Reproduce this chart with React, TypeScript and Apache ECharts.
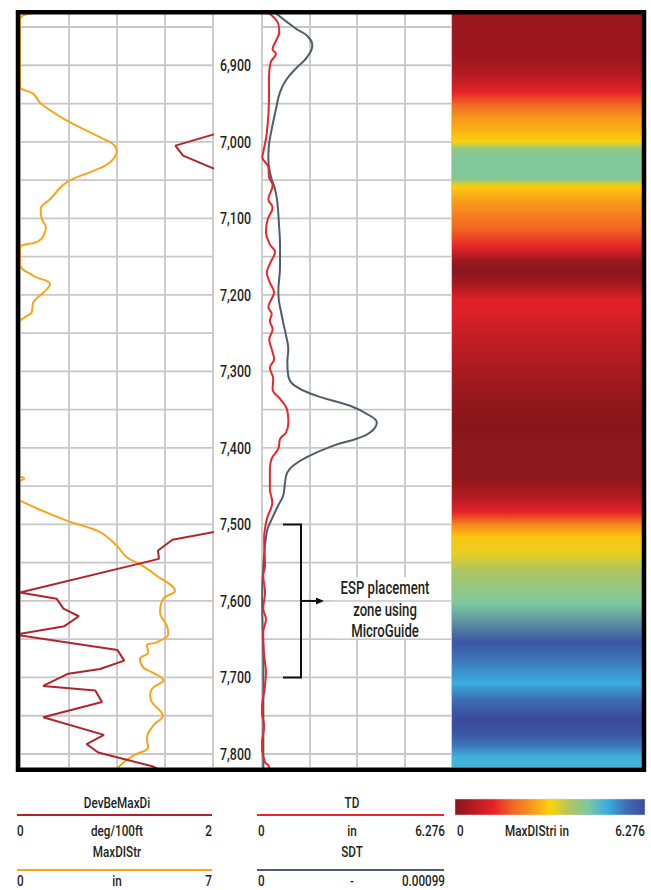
import React, { useEffect, useRef } from "react";
import * as echarts from "echarts";

// ---------- Data ----------
const DEPTH_MIN = 6833;
const DEPTH_MAX = 7817;
const DEPTH_TICKS = [6900, 7000, 7100, 7200, 7300, 7400, 7500, 7600, 7700, 7800];
const GRID_DEPTHS = [6850, 6900, 6950, 7000, 7050, 7100, 7150, 7200, 7250, 7300, 7350, 7400, 7450, 7500, 7550, 7600, 7650, 7700, 7750, 7800];

// DevBeMaxDi (deg/100ft), scale 0-2
const DEV_DEPTH = [6833, 6975, 6991, 7005, 7018, 7034, 7050, 7490, 7503, 7520, 7534, 7545, 7589, 7597, 7610, 7620, 7633, 7644, 7664, 7678, 7689, 7695, 7711, 7717, 7732, 7752, 7775, 7787, 7798, 7816, 7830];
const DEV_VALUES = [2.6, 2.4, 1.99, 1.61, 1.69, 1.99, 2.4, 2.6, 2.3, 1.58, 1.43, 1.44, 0.0, 0.38, 0.45, 0.61, 0.46, -0.05, 1.01, 1.08, 0.83, 0.5, 0.24, 0.78, 0.85, 0.24, 0.87, 0.69, 0.81, 1.37, 1.6];

// MaxDIStr (in), scale 0-7
const MAXDISTR_DEPTH = [6830, 6840, 6927, 6937, 6951, 6972, 6994, 7003, 7012, 7027, 7038, 7053, 7075, 7088, 7101, 7112, 7123, 7130, 7139, 7160, 7175, 7186, 7197, 7210, 7223, 7229, 7234, 7245, 7432, 7440, 7448, 7462, 7469, 7495, 7510, 7528, 7543, 7552, 7567, 7587, 7597, 7615, 7632, 7643, 7654, 7658, 7667, 7676, 7687, 7693, 7704, 7713, 7722, 7732, 7750, 7763, 7780, 7791, 7802, 7815, 7830];
const MAXDISTR_VALUES = [1.0, 0, 0, 0.47, 0.79, 1.69, 2.9, 3.37, 3.51, 3.26, 2.66, 1.69, 1.09, 0.75, 0.79, 0.94, 0.85, 0.66, 0, 0, 0.48, 1.09, 0.85, 0.48, 0.42, 0.18, 0, -0.3, -0.3, 0.15, -0.3, -0.2, 0, 1.69, 2.9, 3.51, 3.87, 4.35, 4.96, 5.62, 5.2, 5.08, 5.32, 5.38, 4.96, 4.6, 4.65, 4.35, 4.47, 4.78, 5.2, 4.83, 4.72, 4.78, 5.18, 4.83, 4.6, 4.65, 4.11, 3.63, 3.3];

// TD (in), scale 0-6.276
const TD_DEPTH = [6830, 6846, 6857, 6868, 6879, 6885, 6896, 6918, 6944, 6988, 7014, 7020, 7033, 7046, 7057, 7075, 7086, 7101, 7118, 7134, 7144, 7157, 7171, 7184, 7197, 7205, 7216, 7225, 7234, 7245, 7258, 7271, 7284, 7295, 7310, 7323, 7336, 7349, 7367, 7380, 7388, 7401, 7414, 7428, 7454, 7471, 7493, 7519, 7554, 7567, 7589, 7610, 7624, 7641, 7671, 7693, 7711, 7745, 7763, 7789, 7811, 7815, 7830];
const TD_VALUES = [0.16, 0.54, 0.57, 0.46, 0.35, 0.46, 0.29, 0.23, 0.23, 0.16, 0.04, 0.01, 0.21, 0.23, 0.35, 0.21, 0.35, 0.19, 0.13, 0.26, 0.43, 0.29, 0.16, 0.26, 0.4, 0.32, 0.21, 0.32, 0.26, 0.35, 0.24, 0.32, 0.4, 0.26, 0.37, 0.35, 0.6, 0.82, 0.87, 0.79, 0.6, 0.54, 0.32, 0.26, 0.26, 0.34, 0.16, 0.07, 0.1, 0.04, 0.1, 0.04, 0.13, 0.04, 0.07, 0.13, 0.1, -0.01, 0.07, -0.01, 0.1, 0.21, 0.3];

// SDT (-), scale 0-0.00099
const SDT_DEPTH = [6830, 6853, 6861, 6874, 6890, 6903, 6918, 6935, 6957, 6983, 7005, 7022, 7044, 7062, 7079, 7110, 7136, 7162, 7197, 7227, 7253, 7271, 7288, 7306, 7319, 7332, 7345, 7358, 7367, 7380, 7388, 7397, 7412, 7423, 7432, 7445, 7462, 7475, 7493, 7510, 7554, 7597, 7641, 7685, 7728, 7772, 7830];
const SDT_VALUES = [0.000062, 0.000181, 0.000233, 0.000262, 0.000233, 0.000181, 0.000129, 0.000094, 0.000073, 0.000051, 0.000036, 0.000033, 0.000045, 0.000068, 0.00008, 0.000089, 0.000094, 0.000094, 0.000085, 0.000103, 0.000125, 0.000137, 0.000132, 0.000137, 0.000172, 0.000285, 0.000459, 0.000563, 0.000598, 0.000563, 0.000493, 0.000372, 0.000233, 0.000163, 0.000132, 0.00012, 0.000111, 0.000085, 0.000051, 0.000025, 0.000007, 0.000001, 0.000004, 0.000007, 0.000007, 0.000007, 0.000007];

// MaxDIStri (in), colour track 0-6.276
const MAXDISTRI_DEPTH = [6833, 6890, 6915, 6935, 6951, 6968, 6990, 7000, 7009, 7020, 7048, 7055, 7059, 7075, 7094, 7114, 7134, 7144, 7155, 7170, 7186, 7205, 7218, 7245, 7284, 7323, 7362, 7440, 7467, 7484, 7499, 7516, 7539, 7558, 7584, 7604, 7654, 7682, 7708, 7728, 7754, 7774, 7791, 7804, 7817];
const MAXDISTRI_VALUES = [0.25, 0.25, 0.63, 1.26, 1.88, 2.51, 2.89, 3.14, 4.14, 4.33, 4.33, 3.45, 3.08, 2.64, 2.26, 1.88, 1.38, 0.94, 0.25, 0, 0.38, 1.13, 1.19, 0.88, 0.56, 0.25, 0, 0.06, 0.63, 1.26, 2.2, 3.01, 3.33, 3.77, 4.14, 4.39, 6.09, 5.52, 5.02, 5.65, 6.27, 6.09, 5.52, 4.96, 4.9];

const COLOR_STOPS: [number, string][] = [
  [0, "#8a161b"],
  [0.2, "#e6212a"],
  [0.3, "#f26522"],
  [0.4, "#f7961d"],
  [0.5, "#fcd20b"],
  [0.6, "#b2c55e"],
  [0.7, "#7cc8a0"],
  [0.8, "#3aaee2"],
  [0.9, "#3e70b6"],
  [1, "#3a4a9c"],
];

// ---------- Style ----------
const FONT = "Roboto, 'Liberation Sans', sans-serif";
const TEXT_COLOR = "#231f20";
const GRID_COLOR = "#c8c8c8";
const C_DEV = "#b0252c";
const C_MAXDISTR = "#f8a51d";
const C_TD = "#e8262b";
const C_SDT = "#4e5c6b";
const COLOR_MAX = 6.276;
const NARROW = 0.78;

function hexToRgb(h: string) {
  return [parseInt(h.slice(1, 3), 16), parseInt(h.slice(3, 5), 16), parseInt(h.slice(5, 7), 16)];
}
function colorAt(v: number) {
  const t = Math.max(0, Math.min(1, v / COLOR_MAX));
  for (let i = 0; i < COLOR_STOPS.length - 1; i++) {
    const [a, ca] = COLOR_STOPS[i];
    const [b, cb] = COLOR_STOPS[i + 1];
    if (t >= a && t <= b) {
      const k = b === a ? 0 : (t - a) / (b - a);
      const A = hexToRgb(ca);
      const B = hexToRgb(cb);
      const c = A.map((x, j) => Math.round(x + (B[j] - x) * k));
      return `rgb(${c[0]},${c[1]},${c[2]})`;
    }
  }
  return COLOR_STOPS[COLOR_STOPS.length - 1][1];
}

const pairs = (d: number[], v: number[]) => d.map((dd, i) => [v[i], dd]);

const depthAxis = (gridIndex: number) => ({
  type: "value",
  gridIndex,
  inverse: true,
  min: DEPTH_MIN,
  max: DEPTH_MAX,
  show: false,
});

const hiddenX = (gridIndex: number, min: number, max: number) => ({
  type: "value",
  gridIndex,
  min,
  max,
  show: false,
});

const gridX = (gridIndex: number) => ({
  type: "value",
  gridIndex,
  min: 0,
  max: 4,
  interval: 1,
  show: true,
  axisLine: { show: false },
  axisTick: { show: false },
  axisLabel: { show: false },
  splitLine: { show: true, lineStyle: { color: GRID_COLOR, width: 1.8 } },
});

const gridLineSeries = (xAxisIndex: number, yAxisIndex: number) => ({
  type: "custom",
  xAxisIndex,
  yAxisIndex,
  silent: true,
  z: 1,
  data: GRID_DEPTHS.map((d) => [0, d]),
  encode: { x: 0, y: 1 },
  renderItem: (params: any, api: any) => {
    const y = api.coord([0, api.value(1)])[1];
    const cs = params.coordSys;
    return {
      type: "line",
      shape: { x1: cs.x, y1: y, x2: cs.x + cs.width, y2: y },
      style: { stroke: GRID_COLOR, lineWidth: 1.8 },
    };
  },
});

const lineSeries = (name: string, xAxisIndex: number, yAxisIndex: number, d: number[], v: number[], color: string, smooth: any) => ({
  type: "line",
  name,
  xAxisIndex,
  yAxisIndex,
  data: pairs(d, v),
  showSymbol: false,
  symbol: "none",
  smooth,
  clip: true,
  z: 3,
  silent: true,
  lineStyle: { color, width: 2 },
});

const T = (text: string, x: number, y: number, align: string = "center", size = 15, scale = NARROW) => ({
  type: "text",
  x,
  y,
  scaleX: scale,
  silent: true,
  z: 50,
  style: {
    text,
    fill: TEXT_COLOR,
    fontSize: size,
    fontFamily: FONT,
    fontWeight: 500,
    textAlign: align,
    align,
    textVerticalAlign: "middle",
    verticalAlign: "middle",
  },
});
const HL = (x1: number, x2: number, y: number, color: string, w = 2, z = 50) => ({
  type: "line",
  silent: true,
  z,
  shape: { x1, y1: y, x2, y2: y },
  style: { stroke: color, lineWidth: w },
});

export default function App() {
  const ref = useRef<HTMLDivElement>(null);

  useEffect(() => {
    if (!ref.current) return;
    const chart = echarts.init(ref.current, undefined, { renderer: "svg" });

    const segments = MAXDISTRI_DEPTH.slice(0, -1).map((d, i) => [0, d, MAXDISTRI_DEPTH[i + 1], MAXDISTRI_VALUES[i], MAXDISTRI_VALUES[i + 1]]);

    chart.setOption({
      animation: false,
      backgroundColor: "#ffffff",
      grid: [
        { left: 20, top: 14, width: 193, height: 753, outerBoundsMode: "none" },
        { left: 262, top: 14, width: 190, height: 753, outerBoundsMode: "none" },
        { left: 452, top: 14, width: 191, height: 753, outerBoundsMode: "none" },
      ],
      xAxis: [
        hiddenX(0, 0, 2), // 0 DevBeMaxDi
        hiddenX(0, 0, 7), // 1 MaxDIStr
        gridX(0), // 2 grid
        hiddenX(1, 0, 6.276), // 3 TD
        hiddenX(1, 0, 0.00099), // 4 SDT
        gridX(1), // 5 grid
        hiddenX(2, 0, 1), // 6 colour track
      ],
      yAxis: [depthAxis(0), depthAxis(1), depthAxis(2)],
      series: [
        gridLineSeries(2, 0),
        gridLineSeries(5, 1),
        // depth labels, placed by the depth scale of track 2
        {
          type: "custom",
          name: "Depth",
          xAxisIndex: 5,
          yAxisIndex: 1,
          silent: true,
          clip: false,
          z: 5,
          data: DEPTH_TICKS.map((d) => [0, d]),
          encode: { x: 0, y: 1 },
          renderItem: (params: any, api: any) => {
            const p = api.coord([0, api.value(1)]);
            return {
              type: "text",
              x: params.coordSys.x - 26.5,
              y: p[1],
              scaleX: 0.73,
              style: {
                text: Number(api.value(1)).toLocaleString("en-US"),
                fill: TEXT_COLOR,
                fontSize: 17,
                fontFamily: FONT,
                fontWeight: 500,
                align: "center",
                verticalAlign: "middle",
              },
            };
          },
        },
        lineSeries("MaxDIStr", 1, 0, MAXDISTR_DEPTH, MAXDISTR_VALUES, C_MAXDISTR, 0.4),
        lineSeries("DevBeMaxDi", 0, 0, DEV_DEPTH, DEV_VALUES, C_DEV, false),
        lineSeries("SDT", 4, 1, SDT_DEPTH, SDT_VALUES, C_SDT, 0.45),
        lineSeries("TD", 3, 1, TD_DEPTH, TD_VALUES, C_TD, 0.4),
        {
          type: "custom",
          name: "MaxDIStri",
          xAxisIndex: 6,
          yAxisIndex: 2,
          silent: true,
          z: 2,
          data: segments,
          encode: { x: 0, y: [1, 2] },
          renderItem: (params: any, api: any) => {
            const cs = params.coordSys;
            const y0 = api.coord([0, api.value(1)])[1];
            const y1 = api.coord([0, api.value(2)])[1];
            const c0 = colorAt(api.value(3));
            const c1 = colorAt(api.value(4));
            return {
              type: "rect",
              shape: { x: cs.x, y: y0 - 0.5, width: cs.width, height: y1 - y0 + 1 },
              style: {
                fill: new echarts.graphic.LinearGradient(0, 0, 0, 1, [
                  { offset: 0, color: c0 },
                  { offset: 1, color: c1 },
                ]),
              },
            };
          },
        },
      ],
    });

    const yOf = (d: number) => chart.convertToPixel({ yAxisIndex: 1 } as any, d) as unknown as number;
    const y7500 = yOf(7500);
    const y7600 = yOf(7600);
    const y7650 = yOf(7650);
    const y7700 = yOf(7700);

    const barStops = COLOR_STOPS.map(([o, c]) => ({ offset: o, color: c }));

    const graphic: any[] = [
      // annotation backdrop
      {
        type: "rect",
        silent: true,
        z: 20,
        shape: { x: 334, y: y7600 - 24, width: 117, height: y7650 - y7600 + 23 },
        style: { fill: "#ffffff" },
      },
      HL(334, 451, y7600, GRID_COLOR, 1.4, 21),
      // bracket
      {
        type: "polyline",
        silent: true,
        z: 30,
        shape: { points: [[283, y7500], [301, y7500], [301, y7700], [283, y7700]] },
        style: { stroke: "#111", lineWidth: 2, fill: null },
      },
      HL(301, 318, y7600, "#111", 2, 30),
      {
        type: "polygon",
        silent: true,
        z: 30,
        shape: { points: [[316, y7600 - 3.5], [324, y7600], [316, y7600 + 3.5]] },
        style: { fill: "#111" },
      },
      T("ESP placement", 385, y7600 - 13, "center", 18, 0.73),
      T("zone using", 385, y7600 + 9, "center", 18, 0.73),
      T("MicroGuide", 385, y7600 + 30, "center", 18, 0.73),
      // frame
      {
        type: "rect",
        silent: true,
        z: 100,
        shape: { x: 18, y: 12.3, width: 626, height: 757.5 },
        style: { stroke: "#000", lineWidth: 4.5, fill: null },
      },
      // legend column 1
      T("DevBeMaxDi", 117, 803),
      HL(17, 212, 815, C_DEV),
      T("0", 17, 831, "left"),
      T("deg/100ft", 117, 831),
      T("2", 212, 831, "right"),
      T("MaxDIStr", 117, 852),
      HL(17, 212, 870, C_MAXDISTR),
      T("0", 17, 881, "left"),
      T("in", 117, 881),
      T("7", 212, 881, "right"),
      // legend column 2
      T("TD", 352, 803),
      HL(257, 444, 815, C_TD),
      T("0", 258, 831, "left"),
      T("in", 352, 831),
      T("6.276", 445, 831, "right"),
      T("SDT", 352, 852),
      HL(257, 444, 870, C_SDT),
      T("0", 258, 881, "left"),
      T("-", 352, 881),
      T("0.00099", 445, 881, "right"),
      // colour bar
      {
        type: "rect",
        silent: true,
        z: 50,
        shape: { x: 455, y: 799, width: 190, height: 16 },
        style: {
          fill: new echarts.graphic.LinearGradient(0, 0, 1, 0, barStops),
          stroke: "#dddddd",
          lineWidth: 0.5,
        },
      },
      T("0", 457, 831, "left"),
      T("MaxDIStri in", 537, 831),
      T("6.276", 645, 831, "right"),
    ];

    chart.setOption({ graphic });

    return () => chart.dispose();
  }, []);

  return (
    <div
      ref={ref}
      style={{ position: "fixed", left: 0, top: 0, width: 651, height: 890, background: "#fff" }}
    />
  );
}
